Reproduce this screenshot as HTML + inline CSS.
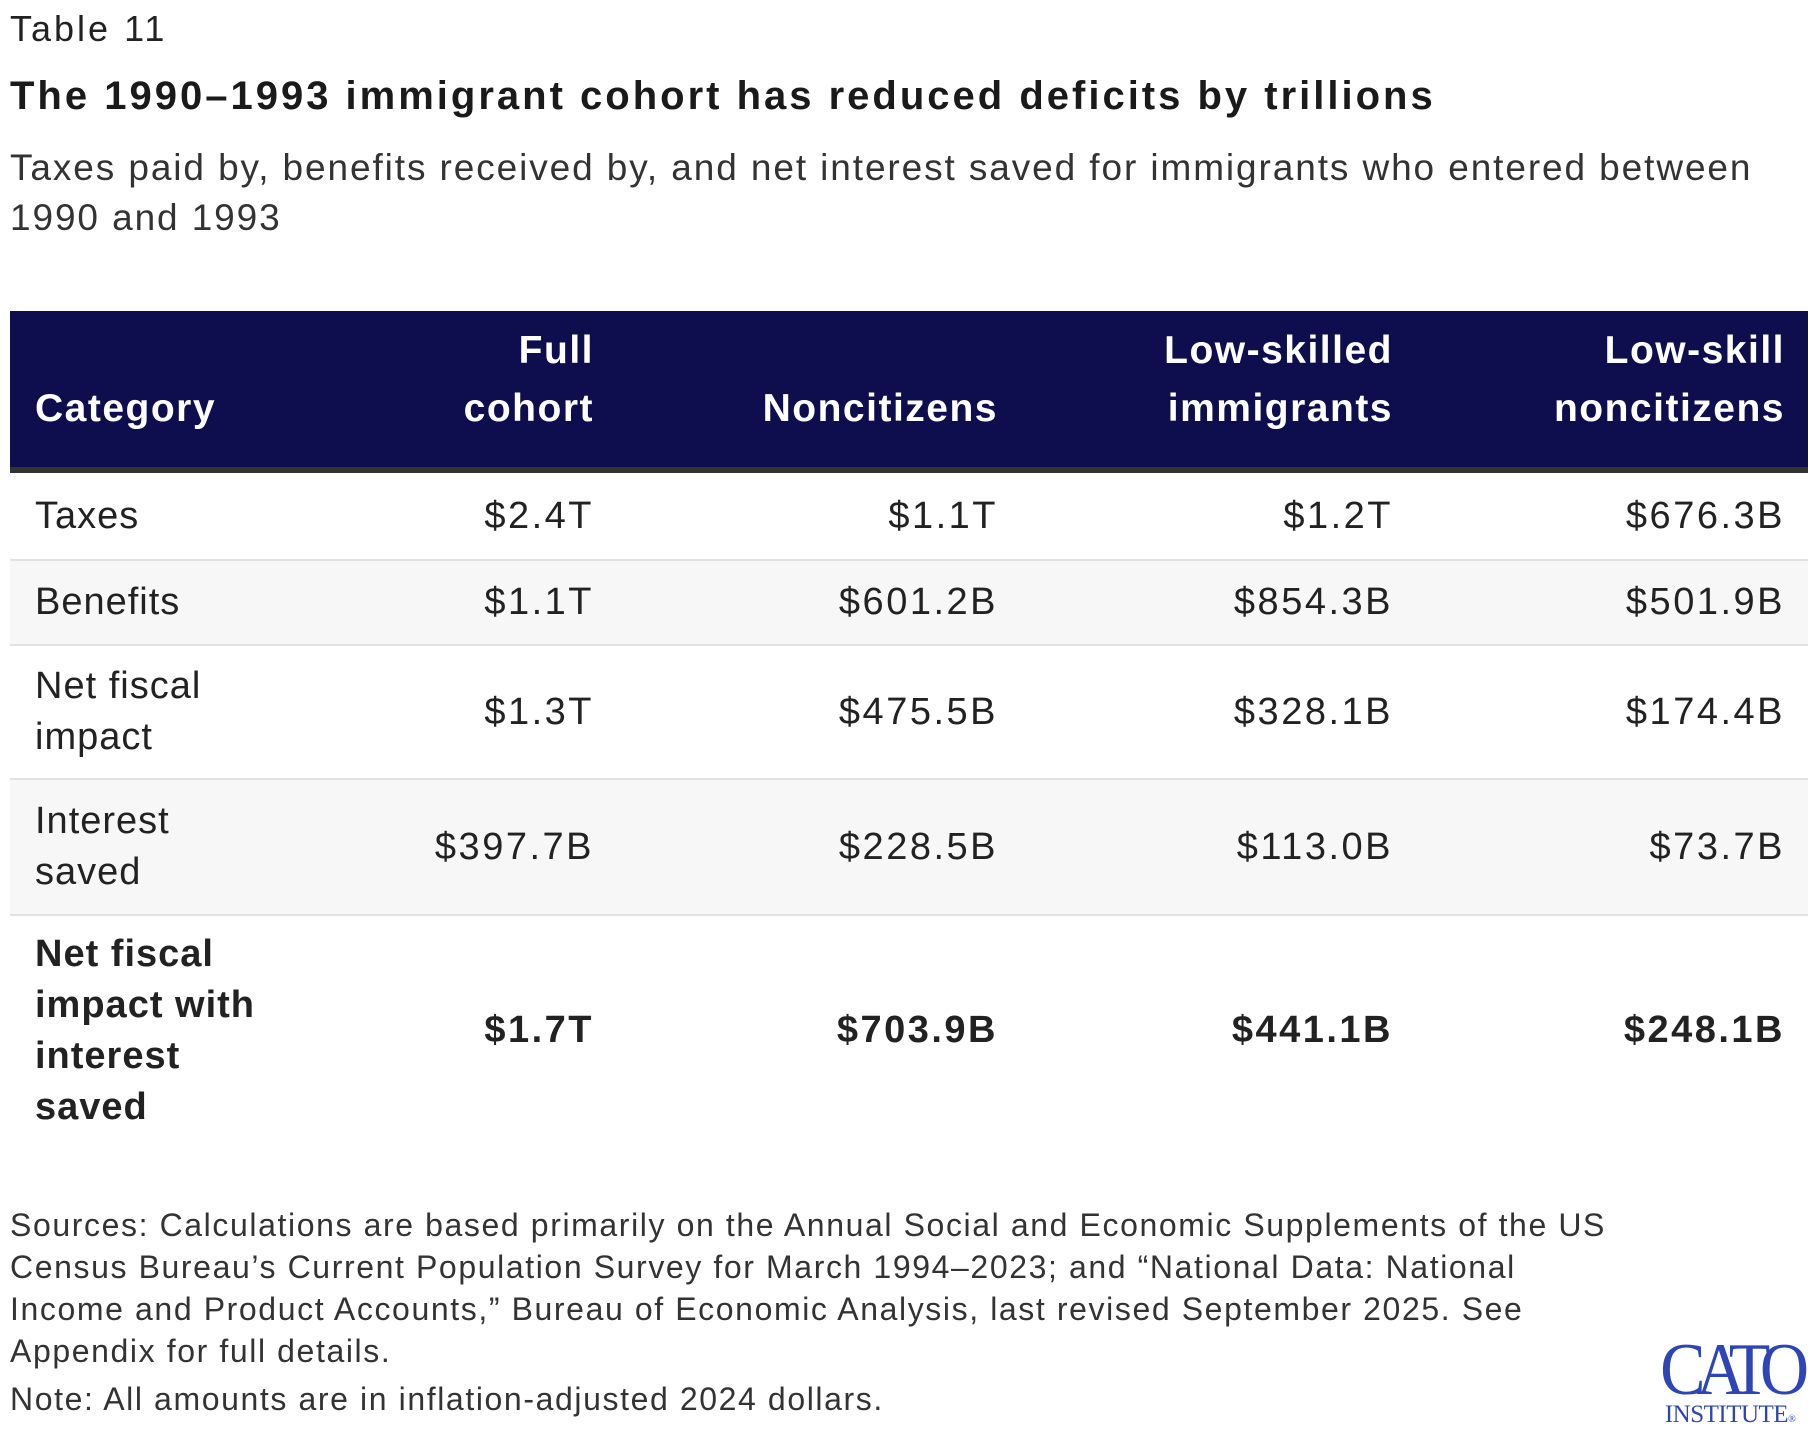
<!DOCTYPE html>
<html><head><meta charset="utf-8">
<style>
*{margin:0;padding:0;box-sizing:border-box}
body{width:1820px;height:1436px;background:#fff;font-family:"Liberation Sans",sans-serif;color:#222;position:relative;overflow:hidden}
.abs{position:absolute;white-space:nowrap}
table{position:absolute;left:10px;top:311px;width:1798px;border-collapse:collapse;table-layout:fixed}
th{background:#0e0e4e;color:#fff;font-weight:bold;font-size:39px;letter-spacing:1.5px;line-height:58px;text-align:right;vertical-align:bottom;padding-bottom:29px;height:159px;border-bottom:6px solid #333}
td{font-size:38px;letter-spacing:2.5px;line-height:51px;text-align:right;vertical-align:middle;border-bottom:2px solid #e2e2e2}
th:first-child,td:first-child{text-align:left;padding-left:25px}
td:first-child{letter-spacing:1px}
.c2{padding-right:20px}.c5{padding-right:23px}
tr.alt td{background:#f7f7f7}
tr.tot td{font-weight:bold;border-bottom:none}
</style></head><body>
<div class="abs" style="left:10px;top:8px;font-size:36px;letter-spacing:3px;line-height:42px">Table 11</div>
<div class="abs" style="left:10px;top:72px;font-size:40px;letter-spacing:3px;line-height:48px;font-weight:bold;color:#1a1a1a">The 1990–1993 immigrant cohort has reduced deficits by trillions</div>
<div class="abs" style="left:10px;top:143px;font-size:37px;letter-spacing:1.9px;line-height:50px;color:#333">Taxes paid by, benefits received by, and net interest saved for immigrants who entered between<br>1990 and 1993</div>
<table>
<colgroup><col style="width:320px"><col style="width:284px"><col style="width:404px"><col style="width:395px"><col style="width:395px"></colgroup>
<tr><th>Category</th><th class="c2">Full<br>cohort</th><th class="c2">Noncitizens</th><th class="c2">Low-skilled<br>immigrants</th><th class="c5">Low-skill<br>noncitizens</th></tr>
<tr style="height:90px"><td>Taxes</td><td class="c2">$2.4T</td><td class="c2">$1.1T</td><td class="c2">$1.2T</td><td class="c5">$676.3B</td></tr>
<tr class="alt" style="height:85px"><td>Benefits</td><td class="c2">$1.1T</td><td class="c2">$601.2B</td><td class="c2">$854.3B</td><td class="c5">$501.9B</td></tr>
<tr style="height:134px"><td>Net fiscal<br>impact</td><td class="c2">$1.3T</td><td class="c2">$475.5B</td><td class="c2">$328.1B</td><td class="c5">$174.4B</td></tr>
<tr class="alt" style="height:136px"><td>Interest<br>saved</td><td class="c2">$397.7B</td><td class="c2">$228.5B</td><td class="c2">$113.0B</td><td class="c5">$73.7B</td></tr>
<tr class="tot" style="height:230px"><td>Net fiscal<br>impact with<br>interest<br>saved</td><td class="c2">$1.7T</td><td class="c2">$703.9B</td><td class="c2">$441.1B</td><td class="c5">$248.1B</td></tr>
</table>
<div class="abs" style="left:10px;top:1204px;font-size:32px;letter-spacing:1.6px;line-height:42px;color:#333">Sources: Calculations are based primarily on the Annual Social and Economic Supplements of the US<br>Census Bureau’s Current Population Survey for March 1994–2023; and “National Data: National<br>Income and Product Accounts,” Bureau of Economic Analysis, last revised September 2025. See<br>Appendix for full details.</div>
<div class="abs" style="left:10px;top:1378px;font-size:32px;letter-spacing:1.6px;line-height:42px;color:#333">Note: All amounts are in inflation-adjusted 2024 dollars.</div>
<div class="abs" style="left:1650px;top:1336px;width:160px;color:#2e46b5;font-family:'Liberation Serif',serif;text-align:center">
<div style="font-size:74px;line-height:68px;letter-spacing:-10px;transform:scaleX(0.92)">CATO</div>
<div style="font-size:25px;line-height:22px;letter-spacing:-0.5px">INSTITUTE<span style="font-size:10px">®</span></div>
</div>
</body></html>
